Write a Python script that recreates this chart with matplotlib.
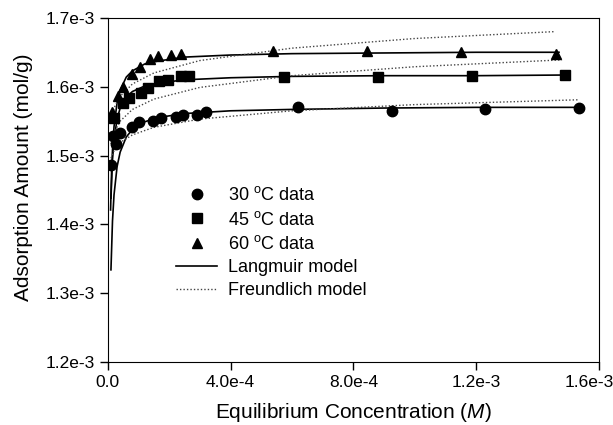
import matplotlib
matplotlib.use("Agg")
from matplotlib import pyplot as plt
from matplotlib.transforms import ScaledTranslation

plt.rcParams['font.family'] = ['Liberation Sans', 'DejaVu Sans']
plt.rcParams['mathtext.fontset'] = 'custom'
plt.rcParams['mathtext.rm'] = 'Liberation Sans'
plt.rcParams['mathtext.it'] = 'Liberation Sans:italic'

# measured data (C in M, q in mol/g)
c30 = [1.0e-5, 1.7e-5, 2.6e-5, 4.1e-5, 7.9e-5, 1.01e-4, 1.46e-4, 1.73e-4, 2.21e-4,
       2.45e-4, 2.91e-4, 3.19e-4, 6.18e-4, 9.26e-4, 1.230e-3, 1.534e-3]
q30 = [1.487e-3, 1.529e-3, 1.517e-3, 1.533e-3, 1.541e-3, 1.549e-3, 1.550e-3, 1.555e-3, 1.556e-3,
       1.559e-3, 1.559e-3, 1.563e-3, 1.570e-3, 1.565e-3, 1.568e-3, 1.569e-3]

c45 = [2.0e-5, 4.8e-5, 6.9e-5, 1.07e-4, 1.31e-4, 1.67e-4, 1.96e-4, 2.37e-4, 2.65e-4,
       5.73e-4, 8.80e-4, 1.185e-3, 1.489e-3]
q45 = [1.554e-3, 1.576e-3, 1.583e-3, 1.591e-3, 1.598e-3, 1.609e-3, 1.610e-3, 1.615e-3, 1.616e-3,
       1.614e-3, 1.614e-3, 1.615e-3, 1.617e-3]

c60 = [1.5e-5, 3.4e-5, 5.0e-5, 7.9e-5, 1.04e-4, 1.37e-4, 1.64e-4, 2.07e-4, 2.37e-4,
       5.38e-4, 8.45e-4, 1.150e-3, 1.459e-3]
q60 = [1.563e-3, 1.586e-3, 1.600e-3, 1.619e-3, 1.628e-3, 1.640e-3, 1.644e-3, 1.646e-3, 1.648e-3,
       1.652e-3, 1.652e-3, 1.651e-3, 1.648e-3]

# model curves
lc30 = [1.0e-5, 1.5e-5, 2e-5, 3e-5, 4e-5, 6e-5, 8e-5, 1.2e-4, 1.6e-4, 2.5e-4, 4e-4, 6e-4, 9e-4, 1.2e-3, 1.55e-3]
lq30 = [1.334e-3, 1.405e-3, 1.443e-3, 1.484e-3, 1.505e-3, 1.527e-3, 1.538e-3, 1.549e-3, 1.555e-3,
        1.561e-3, 1.565e-3, 1.567e-3, 1.569e-3, 1.570e-3, 1.570e-3]
lc45 = [1.0e-5, 1.5e-5, 2e-5, 3e-5, 4e-5, 6e-5, 8e-5, 1.2e-4, 1.6e-4, 2.5e-4, 4e-4, 6e-4, 9e-4, 1.2e-3, 1.5e-3]
lq45 = [1.438e-3, 1.494e-3, 1.523e-3, 1.553e-3, 1.569e-3, 1.585e-3, 1.593e-3, 1.601e-3, 1.605e-3,
        1.610e-3, 1.613e-3, 1.615e-3, 1.616e-3, 1.616e-3, 1.617e-3]
lc60 = [0.88e-5, 1.2e-5, 1.5e-5, 2e-5, 3e-5, 4e-5, 6e-5, 8e-5, 1.2e-4, 1.6e-4, 2.5e-4, 4e-4, 6e-4, 9e-4, 1.2e-3, 1.47e-3]
lq60 = [1.421e-3, 1.476e-3, 1.508e-3, 1.542e-3, 1.577e-3, 1.595e-3, 1.614e-3, 1.623e-3, 1.633e-3,
        1.637e-3, 1.643e-3, 1.646e-3, 1.648e-3, 1.649e-3, 1.650e-3, 1.650e-3]

fc30 = [1e-5, 2e-5, 4e-5, 8e-5, 1.5e-4, 3e-4, 6e-4, 1e-3, 1.534e-3]
fq30 = [1.496e-3, 1.507e-3, 1.519e-3, 1.530e-3, 1.541e-3, 1.553e-3, 1.565e-3, 1.574e-3, 1.581e-3]
fc45 = [1e-5, 2e-5, 4e-5, 8e-5, 1.5e-4, 3e-4, 6e-4, 1e-3, 1.48e-3]
fq45 = [1.517e-3, 1.533e-3, 1.550e-3, 1.567e-3, 1.582e-3, 1.599e-3, 1.616e-3, 1.629e-3, 1.639e-3]
fc60 = [1e-5, 2e-5, 4e-5, 8e-5, 1.5e-4, 3e-4, 6e-4, 1e-3, 1.456e-3]
fq60 = [1.551e-3, 1.569e-3, 1.586e-3, 1.604e-3, 1.620e-3, 1.638e-3, 1.656e-3, 1.670e-3, 1.680e-3]

xticks = [0.0, 4.0e-4, 8.0e-4, 1.2e-3, 1.6e-3]
xlabels = ['0.0', '4.0e-4', '8.0e-4', '1.2e-3', '1.6e-3']
yticks = [1.2e-3, 1.3e-3, 1.4e-3, 1.5e-3, 1.6e-3, 1.7e-3]
ylabels = ['1.2e-3', '1.3e-3', '1.4e-3', '1.5e-3', '1.6e-3', '1.7e-3']

fig = plt.figure(figsize=(6.13, 4.25), dpi=100)
ax = fig.add_axes([0.176, 0.148, 0.801, 0.810])

dot = (0, (1, 1.5))
for xs, ys in ((lc30, lq30), (lc45, lq45), (lc60, lq60)):
    ax.plot(xs, ys, color='black', lw=1.2, zorder=2)
for xs, ys in ((fc30, fq30), (fc45, fq45), (fc60, fq60)):
    ax.plot(xs, ys, color='#444444', lw=1.0, ls=dot, zorder=2)

ax.plot(c30, q30, 'o', color='black', ms=7.5, ls='none', zorder=3, label=r'30 $^{\mathrm{o}}$C data')
ax.plot(c45, q45, 's', color='black', ms=6.5, ls='none', zorder=3, label=r'45 $^{\mathrm{o}}$C data')
ax.plot(c60, q60, '^', color='black', ms=7.5, ls='none', zorder=3, label=r'60 $^{\mathrm{o}}$C data')
ax.plot([], [], color='black', lw=1.2, label='Langmuir model')
ax.plot([], [], color='#444444', lw=1.0, ls=dot, label='Freundlich model')

ax.set_xlim(0, 1.6e-3)
ax.set_ylim(1.2e-3, 1.7e-3)
ax.set_xticks(xticks)
ax.set_xticklabels(xlabels)
ax.set_yticks(yticks)
ax.set_yticklabels(ylabels)
ax.tick_params(direction='out', length=6, width=1, labelsize=12.5, colors='black')

# keep the last x tick label inside the picture
last = ax.get_xticklabels()[-1]
last.set_transform(last.get_transform() + ScaledTranslation(-0.1, 0, fig.dpi_scale_trans))

ax.set_xlabel(r'Equilibrium Concentration ($\mathit{M}$)', fontsize=15, labelpad=8)
ax.set_ylabel('Adsorption Amount (mol/g)', fontsize=15)
ax.yaxis.set_label_coords(-0.153, 0.538)

ax.legend(loc='upper left', bbox_to_anchor=(0.1385, 0.511), frameon=False, fontsize=13,
          borderpad=0, borderaxespad=0, handlelength=2.3, handletextpad=0.6,
          labelspacing=0.35, numpoints=1)

fig.savefig('out.png', dpi=100)
